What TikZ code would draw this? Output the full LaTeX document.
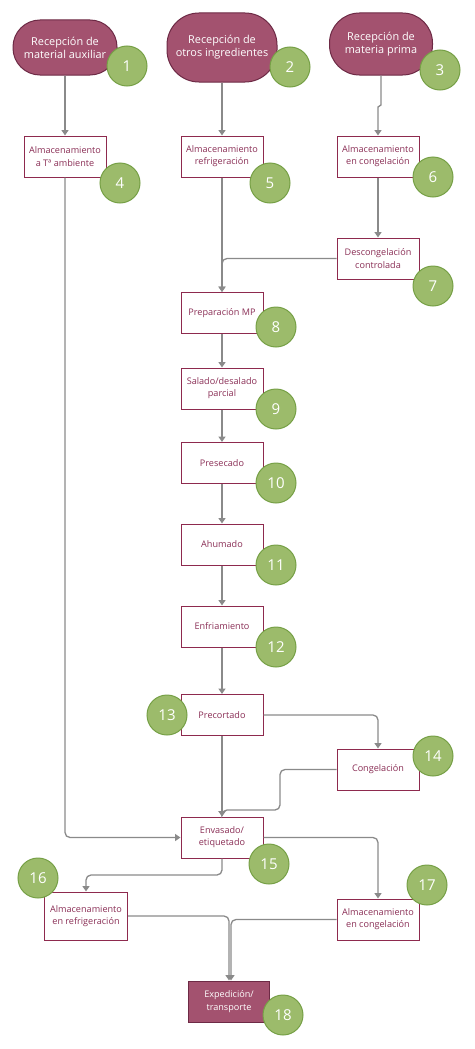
\documentclass[tikz,border=0pt]{standalone}
\usepackage{fontspec}
\setmainfont{Open Sans}
\usetikzlibrary{arrows.meta}
\definecolor{maroon}{HTML}{A3526F}
\definecolor{maroonline}{HTML}{6D2A45}
\definecolor{boxline}{HTML}{8E2A4E}
\definecolor{boxtext}{HTML}{8A2E55}
\definecolor{greenfill}{HTML}{9CBB6B}
\definecolor{greenline}{HTML}{76A046}
\definecolor{arrowgray}{HTML}{8A8A8A}
\tikzset{
  terminal/.style={draw=maroonline, line width=1pt, fill=maroon, rounded corners=27pt,
    text=white, font=\fontsize{10.9}{13}\selectfont, align=center, inner sep=0pt},
  stepbox/.style={draw=boxline, line width=1pt, fill=white, text=boxtext,
    font=\fontsize{9.1}{12.2}\selectfont, align=center, inner sep=0pt,
    minimum width=82pt, minimum height=41pt},
  endbox/.style={draw=maroonline, line width=1pt, fill=maroon, text=white,
    font=\fontsize{9.1}{12.2}\selectfont, align=center, inner sep=0pt,
    minimum width=81pt, minimum height=41pt},
  numcirc/.style={circle, draw=greenline, line width=1pt, fill=greenfill, text=white,
    font=\fontsize{15}{15}\selectfont, minimum size=40pt, inner sep=0pt},
  arr/.style={draw=arrowgray, line width=1.3pt, rounded corners=5pt,
    -{Triangle[width=7pt,length=5.5pt]}},
  line/.style={draw=arrowgray, line width=1.3pt, rounded corners=5pt}
}
\begin{document}
\begin{tikzpicture}[x=1pt,y=-1pt]
\useasboundingbox (0,0) rectangle (474,1049);
% terminals
\node[terminal, minimum width=104pt, minimum height=55pt] (t1) at (65,47.5) {Recepción de\\material auxiliar};
\node[terminal, minimum width=110pt, minimum height=69pt, rounded corners=32pt] (t2) at (222,47.5) {Recepción de\\otros ingredientes};
\node[terminal, minimum width=103pt, minimum height=62pt, rounded corners=30pt] (t3) at (381,44) {Recepción de\\materia prima};
% boxes
\node[stepbox] (b4) at (65,156.5) {Almacenamiento\\a Tª ambiente};
\node[stepbox] (b5) at (222,156.5) {Almacenamiento\\refrigeración};
\node[stepbox] (b6) at (378,156.5) {Almacenamiento\\en congelación};
\node[stepbox] (b7) at (378,258.5) {Descongelación\\controlada};
\node[stepbox] (b8) at (222,313) {Preparación MP};
\node[stepbox] (b9) at (222,388.5) {Salado/desalado\\parcial};
\node[stepbox] (b10) at (222,463) {Presecado};
\node[stepbox] (b11) at (222,544.5) {Ahumado};
\node[stepbox] (b12) at (222,626.5) {Enfriamiento};
\node[stepbox] (b13) at (222,715) {Precortado};
\node[stepbox] (b14) at (378,769.5) {Congelación};
\node[stepbox] (b15) at (222,837.5) {Envasado/\\etiquetado};
\node[stepbox, minimum width=83pt, minimum height=48pt] (b16) at (86,916) {Almacenamiento\\en refrigeración};
\node[stepbox] (b17) at (378,919.5) {Almacenamiento\\en congelación};
\node[endbox] (b18) at (229,1001.5) {Expedición/\\transporte};
% connectors
\draw[arr] (t1) -- (b4);
\draw[arr] (t2) -- (b5);
\draw[arr] (t3.south) -- (381,100) .. controls (381,106) and (378,106) .. (378,112) -- (b6.north);
\draw[arr] (b6) -- (b7);
\draw[arr] (b7.west) -| (b8.north);
\draw[arr] (b5) -- (b8);
\draw[arr] (b8) -- (b9);
\draw[arr] (b9) -- (b10);
\draw[arr] (b10) -- (b11);
\draw[arr] (b11) -- (b12);
\draw[arr] (b12) -- (b13);
\draw[arr] (b13.east) -| (b14.north);
\draw[arr] (b13) -- (b15);
\draw[arr] (b14.west) -| (280,810) -| (b15.north);
\draw[arr] (b4.south) |- (b15.west);
\draw[arr] (b15.east) -| (b17.north);
\draw[arr] (b15.south) -- (222,875) -| (b16.north);
\draw[arr] (b16.east) -| (b18.north);
\draw[arr] (b17.west) -| ([xshift=2pt]b18.north);
% number circles
\node[numcirc] (c1) at (127,66) {1};
\node[numcirc] (c2) at (290,67) {2};
\node[numcirc] (c3) at (440,70) {3};
\node[numcirc] (c4) at (120,183) {4};
\node[numcirc] (c5) at (270,183) {5};
\node[numcirc] (c6) at (433,177) {6};
\node[numcirc] (c7) at (433,286) {7};
\node[numcirc] (c8) at (276,327) {8};
\node[numcirc] (c9) at (276,409) {9};
\node[numcirc] (c10) at (276,483) {10};
\node[numcirc] (c11) at (276,565) {11};
\node[numcirc] (c12) at (276,647) {12};
\node[numcirc] (c13) at (167,715) {13};
\node[numcirc] (c14) at (433,756) {14};
\node[numcirc] (c15) at (269,864) {15};
\node[numcirc] (c16) at (38,878) {16};
\node[numcirc] (c17) at (427,885) {17};
\node[numcirc] (c18) at (283,1015) {18};
\end{tikzpicture}
\end{document}
